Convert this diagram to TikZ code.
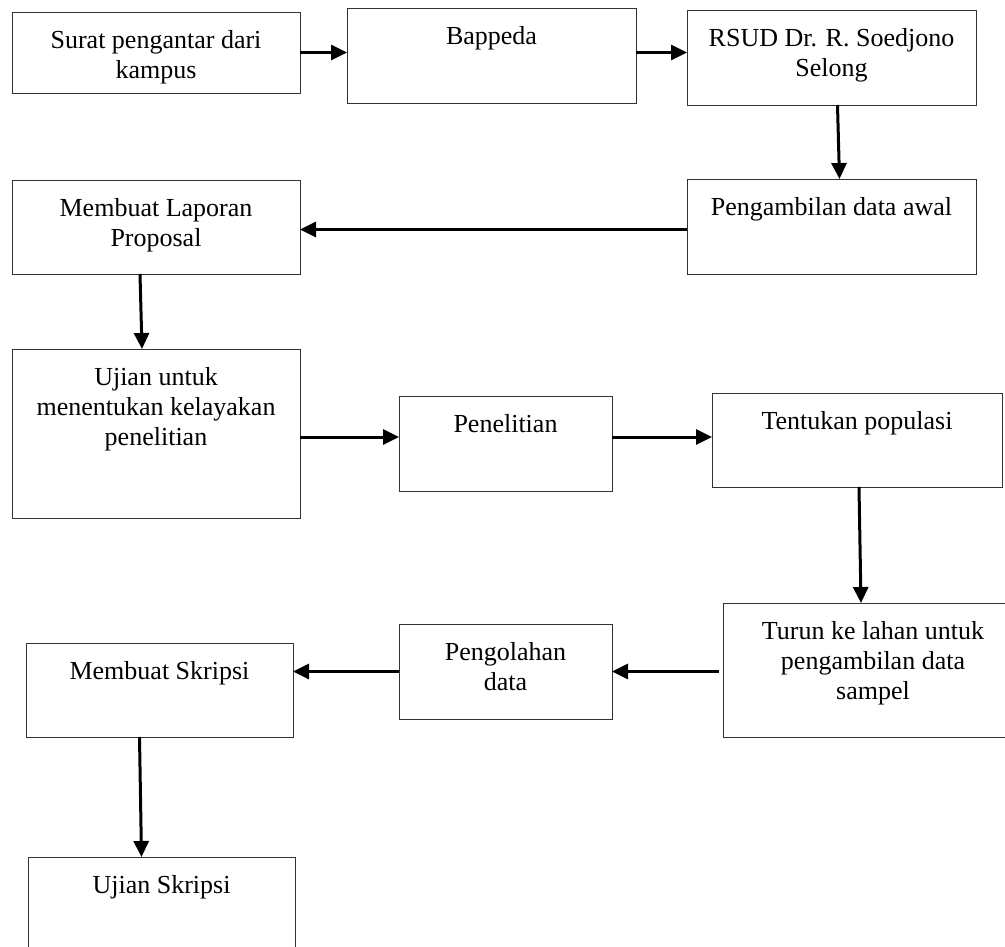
\documentclass[tikz,border=0pt]{standalone}
\usepackage{fontspec}
\setmainfont{Liberation Serif}
\usetikzlibrary{arrows.meta}

\begin{document}
\begin{tikzpicture}[x=1pt,y=-1pt,
    kotak/.style={draw=black!80, line width=0.9pt, anchor=north west, inner sep=0pt, outer sep=0pt},
    teks/.style={anchor=north, align=center, inner sep=0pt, yshift=-18pt, font=\fontsize{26}{30}\selectfont},
    panah/.style={line width=3pt, -{Triangle[length=16pt,width=15pt]}}]
     \clip (0,0) rectangle (1005,947);
     % baris atas
     \node[kotak, minimum width=288, minimum height=81, label={[teks]north:Surat pengantar dari\\kampus}] (surat) at (12,12) {};
     \node[kotak, minimum width=289, minimum height=95, label={[teks]north:Bappeda}] (bappeda) at (347,8) {};
     \node[kotak, minimum width=289, minimum height=95, label={[teks]north:RSUD Dr. R. Soedjono\\Selong}] (rsud) at (687,10) {};
     \node[kotak, minimum width=289, minimum height=95, label={[teks]north:Pengambilan data awal}] (awal) at (687,179) {};
     \node[kotak, minimum width=288, minimum height=94, label={[teks]north:Membuat Laporan\\Proposal}] (laporan) at (12,180) {};
     % baris tengah
     \node[kotak, minimum width=288, minimum height=169, label={[teks]north:Ujian untuk\\menentukan kelayakan\\penelitian}] (ujian) at (12,349) {};
     \node[kotak, minimum width=213, minimum height=95, label={[teks]north:Penelitian}] (penelitian) at (399,396) {};
     \node[kotak, minimum width=290, minimum height=94, label={[teks]north:Tentukan populasi}] (populasi) at (712,393) {};
     % baris bawah
     \node[kotak, minimum width=300, minimum height=134, label={[teks]north:Turun ke lahan untuk\\pengambilan data\\sampel}] (turun) at (723,603) {};
     \node[kotak, minimum width=213, minimum height=95, label={[teks]north:Pengolahan\\data}] (olah) at (399,624) {};
     \node[kotak, minimum width=267, minimum height=94, label={[teks]north:Membuat Skripsi}] (skripsi) at (26,643) {};
     \node[kotak, minimum width=267, minimum height=120, label={[teks]north:Ujian Skripsi}] (ujskripsi) at (28,857) {};
     % panah
     \draw[panah] (surat.east) -- (surat.east -| bappeda.west);
     \draw[panah] (bappeda.east |- surat.east) -- (rsud.west |- surat.east);
     \draw[panah] ([xshift=6pt]rsud.south) -- ([xshift=8pt]awal.north);
     \draw[panah] ([yshift=-3pt]awal.west) -- ([yshift=-3pt]awal.west -| laporan.east);
     \draw[panah] ([xshift=-16pt]laporan.south) -- ([xshift=-14pt]ujian.north);
     \draw[panah] ([yshift=-3.5pt]ujian.east) -- ([yshift=-3.5pt]ujian.east -| penelitian.west);
     \draw[panah] ([yshift=-3.5pt]ujian.east -| penelitian.east) -- ([yshift=-3.5pt]ujian.east -| populasi.west);
     \draw[panah] ([xshift=2pt]populasi.south) -- ([xshift=-12pt]turun.north);
     \draw[panah] ([xshift=-4pt]olah.east -| turun.west) -- (olah.east);
     \draw[panah] (olah.west) -- (olah.west -| skripsi.east);
     \draw[panah] ([xshift=-20pt]skripsi.south) -- ([xshift=-20pt]ujskripsi.north);
\end{tikzpicture}
\end{document}
